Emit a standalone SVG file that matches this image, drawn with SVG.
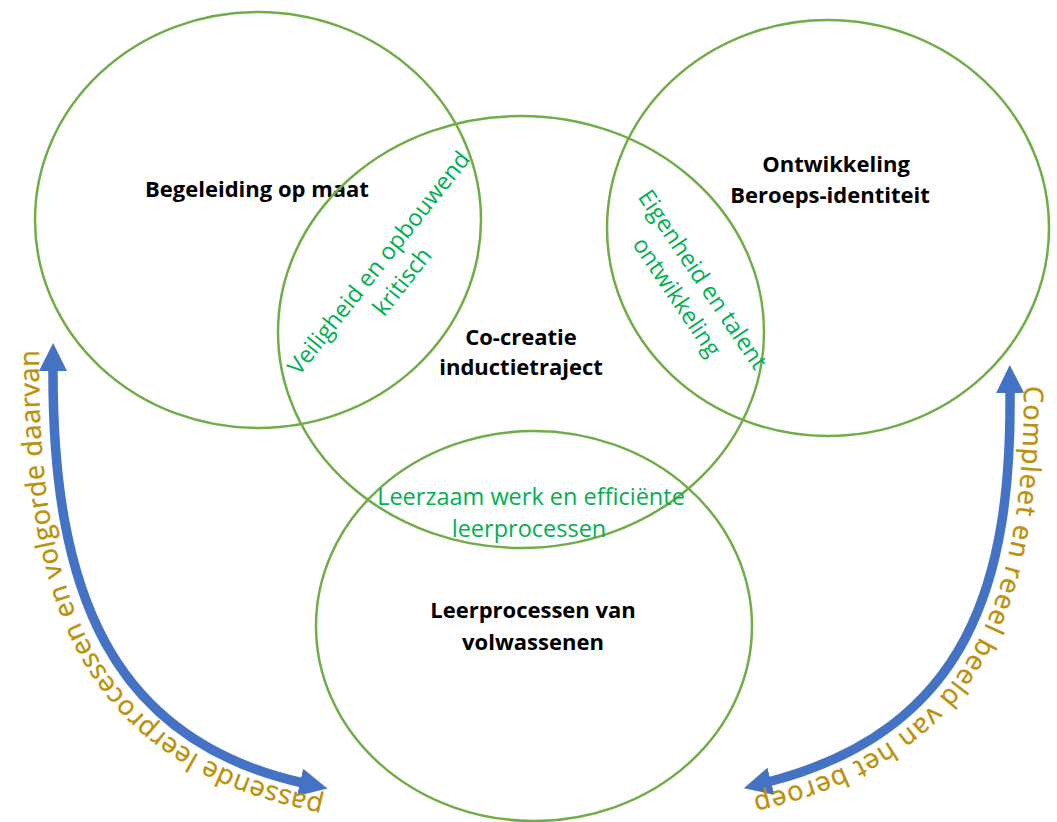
<svg xmlns="http://www.w3.org/2000/svg" width="1057" height="822" viewBox="0 0 1057 822">
  <style>
    .ring { fill: none; stroke: #70AD47; stroke-width: 2.5; }
    .title { font-family: "Open Sans", Lato, sans-serif; font-weight: bold; font-size: 22px; fill: #000; text-anchor: middle; }
    .overlap { font-family: "Open Sans", Lato, sans-serif; font-size: 23.5px; fill: #00B050; text-anchor: middle; }
    .arc { fill: none; stroke: #4472C4; stroke-width: 9.5; }
    .arcLabel { font-family: "Open Sans", Lato, sans-serif; font-size: 27px; fill: #C49300; stroke: #9C7A10; stroke-width: 0.3; }
  </style>
  <defs>
    <marker id="head" viewBox="0 0 28 28" refX="3" refY="14" markerWidth="28" markerHeight="28" markerUnits="userSpaceOnUse" orient="auto-start-reverse">
      <path d="M0,0 L28,14 L0,28 z" fill="#4472C4"/>
    </marker>
    <path id="leftLabelPath" d="M329,800 L300,793 C 90,744 40,592 39,368 L39,330"/>
    <path id="rightLabelPath" d="M1024,380 L1024,390 C 1024,583 982,738 772,792 L740,800"/>
  </defs>

  <rect width="1057" height="822" fill="#fff"/>

  <!-- circles with their titles -->
  <g id="node-begeleiding">
    <ellipse class="ring" cx="258" cy="220" rx="223" ry="208"/>
    <text class="title" x="257" y="197">Begeleiding op maat</text>
  </g>
  <g id="node-cocreatie">
    <ellipse class="ring" cx="521" cy="332" rx="243" ry="216"/>
    <text class="title" x="521" y="345">Co-creatie</text>
    <text class="title" x="521" y="375">inductietraject</text>
  </g>
  <g id="node-ontwikkeling">
    <ellipse class="ring" cx="828" cy="228" rx="221" ry="208"/>
    <text class="title" x="836" y="172">Ontwikkeling</text>
    <text class="title" x="830" y="203">Beroeps-identiteit</text>
  </g>
  <g id="node-leerprocessen">
    <ellipse class="ring" cx="534" cy="626" rx="218" ry="195"/>
    <text class="title" x="533" y="618">Leerprocessen van</text>
    <text class="title" x="533" y="650">volwassenen</text>
  </g>

  <!-- labels in the overlaps -->
  <g id="overlap-veiligheid" transform="translate(385,268) rotate(-51.6)">
    <text class="overlap" x="0" y="0">Veiligheid en opbouwend</text>
    <text class="overlap" x="0" y="30">kritisch</text>
  </g>
  <g id="overlap-eigenheid" transform="translate(696,284) rotate(56)">
    <text class="overlap" x="0" y="0">Eigenheid en talent</text>
    <text class="overlap" x="0" y="31">ontwikkeling</text>
  </g>
  <g id="overlap-leerzaam">
    <text class="overlap" x="531" y="505">Leerzaam werk en efficiënte</text>
    <text class="overlap" x="529" y="537">leerprocessen</text>
  </g>

  <!-- double-headed arcs with their labels -->
  <g id="connectors">
    <path class="arc" d="M53,368 C 52,590 110,740 303,783" marker-start="url(#head)" marker-end="url(#head)"/>
    <path class="arc" d="M1010,390 C 1012,580 970,730 768,782" marker-start="url(#head)" marker-end="url(#head)"/>
    <text class="arcLabel"><textPath href="#leftLabelPath" startOffset="5" textLength="592" lengthAdjust="spacing">passende leerprocessen  en volgorde daarvan</textPath></text>
    <text class="arcLabel"><textPath href="#rightLabelPath" startOffset="6" textLength="545" lengthAdjust="spacing">Compleet en reeel beeld van het beroep</textPath></text>
  </g>
</svg>
